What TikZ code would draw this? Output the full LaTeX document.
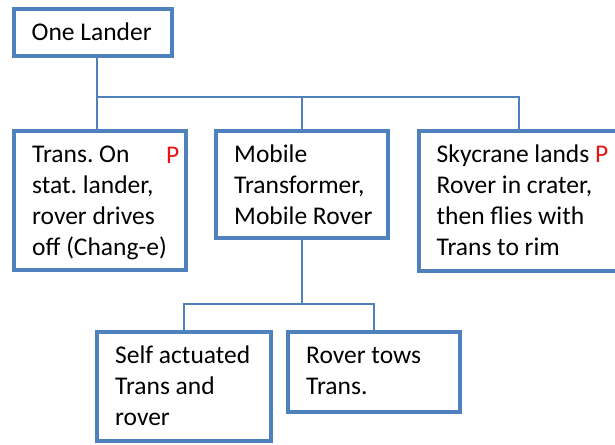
\documentclass[tikz,border=0pt]{standalone}
\usepackage{fontspec}
\setmainfont{Carlito}
\definecolor{obl}{RGB}{79,129,189}
\definecolor{pred}{RGB}{230,20,20}
\frenchspacing
\begin{document}
\begin{tikzpicture}[x=1pt,y=-1pt,
 box/.style={draw=obl, line width=4pt, fill=white, inner sep=0pt, outer sep=0pt, anchor=north west},
 conn/.style={draw=obl, line width=2pt},
 txt/.style={anchor=north west, inner sep=0pt, align=left, font=\fontsize{25.5}{30.7}\selectfont\frenchspacing, text=black}]
\path[use as bounding box] (0,0) rectangle (615,444);
\clip (0,0) rectangle (615,444);
\fill[white] (0,0) rectangle (615,444);
% boxes
\node[box, minimum width=157.5pt, minimum height=47.2pt] (top) at (14,9.3) {};
\node[box, minimum width=172pt, minimum height=139pt] (b1) at (14,131) {};
\node[box, minimum width=172pt, minimum height=107pt] (b2) at (216,131) {};
\node[box, minimum width=201pt, minimum height=139.5pt] (b3) at (418.5,131) {};
\node[box, minimum width=174pt, minimum height=109pt] (b4) at (97,332) {};
\node[box, minimum width=172pt, minimum height=79.5pt] (b5) at (288,332) {};
% texts
\node[txt] (t0) at (31.5,19.3) {\strut One Lander};
\node[txt] (t1) at (32,141.3) {\strut Trans. On\\stat. lander,\\rover drives\\off (Chang-e)};
\node[txt, anchor=base west, text=pred] (p1) at (166,163) {P};
\node[txt] (t2) at (234,141.3) {\strut Mobile\\Transformer,\\Mobile Rover};
\node[txt] (t3) at (436.5,141.3) {\strut Skycrane lands \textcolor{pred}{P}\\Rover in crater,\\then flies with\\Trans to rim};
\node[txt] (t4) at (115,342.3) {\strut Self actuated\\Trans and\\rover};
\node[txt] (t5) at (306,342.3) {\strut Rover tows\\Trans.};
% connectors
\coordinate (ja) at (96.5,96.5);
\coordinate (jb) at (302,304);
\draw[conn] (ja |- top.south) -- (ja |- b1.north);
\draw[conn] (ja) -| (b3.north);
\draw[conn] (b2.north) -- (b2.north |- ja);
\draw[conn] (b2.south) -- (jb);
\draw[conn] (b4.north) |- (jb) -| (b5.north);
\end{tikzpicture}
\end{document}
